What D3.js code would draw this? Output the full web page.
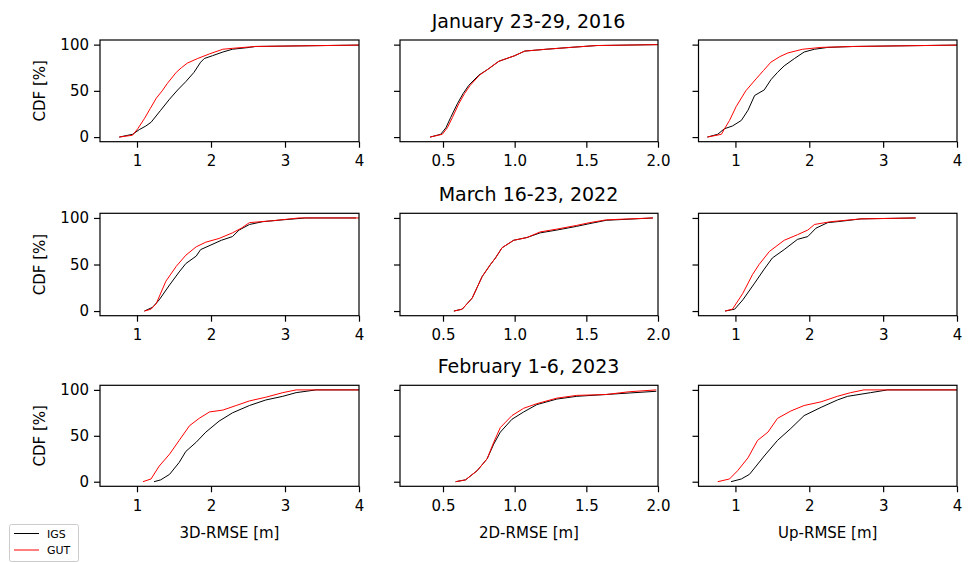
<!DOCTYPE html>
<html><head><meta charset="utf-8">
<script src="https://cdn.jsdelivr.net/npm/d3@7"></script>
<style>body{margin:0;background:#fff} text{font-family:"DejaVu Sans",sans-serif}</style>
</head><body><svg id="c" width="968" height="563"></svg>
<script>
// ---------- data ----------
const rowTitles = ["January 23-29, 2016", "March 16-23, 2022", "February 1-6, 2023"];
const xLabels = ["3D-RMSE [m]", "2D-RMSE [m]", "Up-RMSE [m]"];
const xDomains = [[0.5, 4], [0.2, 2.0], [0.5, 4]];
const xTicks = [[1, 2, 3, 4], [0.5, 1.0, 1.5, 2.0], [1, 2, 3, 4]];
const yTicks = [0, 50, 100];
const yLabel = "CDF [%]";
const seriesNames = ["IGS", "GUT"];

// [RMSE (m), CDF (%)]
const igsJan3D = [[0.76,0],[0.94,3],[1.03,8],[1.12,12],[1.19,16],[1.32,29],[1.44,41],[1.55,51],[1.66,60],[1.77,70],[1.86,81],[1.91,85],[2.02,88],[2.16,92],[2.29,95],[2.52,97],[2.6,98],[4.0,99.5]];
const gutJan3D = [[0.76,0],[0.94,2],[1.01,9],[1.10,20],[1.18,31],[1.26,42],[1.34,50],[1.41,58],[1.53,70],[1.60,75],[1.68,80],[1.82,85],[1.98,90],[2.16,95],[2.29,96],[2.6,98],[4.0,99.5]];
const igsJan2D = [[0.41,0],[0.484,3],[0.52,10],[0.553,21],[0.60,36],[0.64,47],[0.68,56],[0.75,67],[0.81,73],[0.89,82],[1.0,88],[1.07,93],[1.22,95],[1.39,97],[1.57,99],[2.0,100]];
const gutJan2D = [[0.41,0],[0.495,3],[0.53,10],[0.565,21],[0.61,36],[0.65,47],[0.69,56],[0.755,67],[0.81,73],[0.89,82],[1.0,88],[1.07,93],[1.22,95],[1.39,97],[1.57,99],[2.0,100]];
const igsJanUp = [[0.62,0],[0.76,3],[0.85,9],[0.96,12],[1.08,18],[1.17,29],[1.26,45],[1.39,51],[1.48,62],[1.57,70],[1.66,77],[1.80,85],[1.93,92],[2.07,95],[2.25,97],[2.6,98],[4.0,99.5]];
const gutJanUp = [[0.62,0],[0.81,3],[0.86,10],[0.92,18],[1.01,33],[1.14,50],[1.28,63],[1.38,72],[1.48,81],[1.60,87],[1.71,91],[1.91,95],[2.16,97],[2.6,98],[4.0,99.5]];

const igsMar3D = [[1.10,0],[1.21,4],[1.30,12],[1.44,28],[1.57,42],[1.66,51],[1.80,59],[1.86,66],[2.0,71],[2.14,76],[2.29,80],[2.38,87],[2.52,93],[2.70,96],[2.97,98],[3.28,100],[3.96,100]];
const gutMar3D = [[1.10,0],[1.19,2],[1.26,8],[1.39,32],[1.53,48],[1.66,60],[1.80,69],[1.93,74],[2.11,78],[2.29,84],[2.41,89],[2.52,95],[2.83,97],[3.19,100],[4.0,100]];
const igsMar2D = [[0.576,0],[0.634,2],[0.704,14],[0.773,37],[0.831,50],[0.866,57],[0.912,68],[0.993,76],[1.086,79],[1.178,84],[1.294,87],[1.433,91],[1.525,94],[1.64,97.5],[1.965,100]];
const gutMar2D = [[0.576,0],[0.634,2],[0.704,14],[0.773,37],[0.831,50],[0.866,57],[0.912,68],[0.993,76],[1.086,79],[1.178,85],[1.294,88],[1.433,92],[1.525,95],[1.64,98],[1.965,100]];
const igsMarUp = [[0.86,0],[0.99,2],[1.10,12],[1.26,30],[1.39,45],[1.50,57],[1.66,66],[1.84,77],[1.98,80],[2.09,89],[2.25,95],[2.38,96],[2.7,99],[3.44,100]];
const gutMarUp = [[0.86,0],[0.96,2],[1.10,19],[1.23,39],[1.32,50],[1.46,64],[1.66,76],[1.84,82],[1.98,87],[2.07,93],[2.29,96],[2.7,99],[3.44,100]];

const igsFeb3D = [[1.23,0],[1.32,2],[1.44,8],[1.57,21],[1.66,33],[1.80,43],[1.93,54],[2.11,66],[2.29,75],[2.52,83],[2.74,89],[2.97,93],[3.15,97],[3.42,100],[4.0,100]];
const gutFeb3D = [[1.08,0],[1.19,3],[1.30,17],[1.44,30],[1.57,45],[1.71,61],[1.84,69],[1.98,76],[2.16,78],[2.34,83],[2.52,88],[2.74,92],[2.97,97],[3.15,100],[4.0,100]];
const igsFeb2D = [[0.588,0],[0.657,2],[0.738,12],[0.808,25],[0.854,41],[0.90,54],[0.981,68],[1.063,76],[1.155,84],[1.294,90],[1.433,93],[1.64,95],[1.988,98.5]];
const gutFeb2D = [[0.588,0],[0.657,2],[0.738,12],[0.808,25],[0.854,43],[0.90,59],[0.981,72],[1.063,80],[1.155,85],[1.294,91],[1.433,94],[1.64,95],[1.80,98],[1.988,100]];
const igsFebUp = [[0.94,0],[1.08,3],[1.19,8],[1.39,28],[1.57,45],[1.75,58],[1.93,72],[2.16,81],[2.38,89],[2.52,93],[2.83,97],[3.06,100],[4.0,100]];
const gutFebUp = [[0.76,0],[0.92,3],[1.03,12],[1.17,26],[1.30,45],[1.44,54],[1.57,69],[1.75,77],[1.93,83],[2.16,87],[2.38,93],[2.56,97],[2.74,100],[4.0,100]];

const panels = [
  [[igsJan3D, gutJan3D], [igsJan2D, gutJan2D], [igsJanUp, gutJanUp]],
  [[igsMar3D, gutMar3D], [igsMar2D, gutMar2D], [igsMarUp, gutMarUp]],
  [[igsFeb3D, gutFeb3D], [igsFeb2D, gutFeb2D], [igsFebUp, gutFebUp]]
];

// ---------- layout ----------
const colX = [[100, 359], [400, 658], [698.5, 957]];
const rowY = [[40, 141.7], [213.3, 315.7], [385.3, 486.3]];
const colors = ["#000000", "#ff0000"];
const svg = d3.select("#c");
const fontSize = 15;

rowTitles.forEach((t, r) => {
  svg.append("text").attr("x", (colX[0][0] + colX[2][1]) / 2).attr("y", rowY[r][0] - 12)
    .attr("text-anchor", "middle").attr("font-size", 19).text(t);
});

panels.forEach((row, r) => {
  row.forEach((pair, c) => {
    const [x0, x1] = colX[c], [y0, y1] = rowY[r];
    const x = d3.scaleLinear().domain(xDomains[c]).range([x0, x1]);
    const y = d3.scaleLinear().domain([-5, 105]).range([y1, y0]);
    const id = "clip" + r + c;
    svg.append("clipPath").attr("id", id).append("rect")
      .attr("x", x0).attr("y", y0).attr("width", x1 - x0).attr("height", y1 - y0);

    const line = d3.line().x(d => x(d[0])).y(d => y(d[1]));
    const g = svg.append("g").attr("clip-path", `url(#${id})`);
    pair.forEach((s, i) => {
      g.append("path").datum(s).attr("d", line).attr("fill", "none")
        .attr("stroke", colors[i]).attr("stroke-width", 1).attr("stroke-linejoin", "round");
    });

    const fmt = c === 1 ? d3.format(".1f") : d3.format("d");
    const ax = svg.append("g").attr("transform", `translate(0,${y1})`)
      .call(d3.axisBottom(x).tickValues(xTicks[c]).tickFormat(fmt).tickSize(6).tickPadding(8).tickSizeOuter(0));
    ax.select(".domain").remove();
    ax.selectAll("line").attr("stroke-width", 1.2);
    ax.selectAll("text").attr("font-size", fontSize).attr("font-family", "DejaVu Sans").attr("fill", "#000");

    const ay = svg.append("g").attr("transform", `translate(${x0},0)`)
      .call(d3.axisLeft(y).tickValues(yTicks).tickFormat(c === 0 ? d3.format("d") : () => "").tickSize(6).tickPadding(5).tickSizeOuter(0));
    ay.select(".domain").remove();
    ay.selectAll("line").attr("stroke-width", 1.2);
    ay.selectAll("text").attr("font-size", fontSize).attr("font-family", "DejaVu Sans").attr("fill", "#000");

    svg.append("rect").attr("x", x0).attr("y", y0).attr("width", x1 - x0).attr("height", y1 - y0)
      .attr("fill", "none").attr("stroke", "#000").attr("stroke-width", 1.2);

    if (c === 0) {
      svg.append("text").attr("transform", `translate(45,${(y0 + y1) / 2}) rotate(-90)`)
        .attr("text-anchor", "middle").attr("font-size", fontSize).text(yLabel);
    }
    if (r === 2) {
      svg.append("text").attr("x", (x0 + x1) / 2).attr("y", y1 + 52)
        .attr("text-anchor", "middle").attr("font-size", fontSize).text(xLabels[c]);
    }
  });
});

// legend
const lg = svg.append("g");
lg.append("rect").attr("x", 9.5).attr("y", 524.5).attr("width", 69).attr("height", 37).attr("rx", 2)
  .attr("fill", "#fff").attr("stroke", "#cccccc").attr("stroke-width", 1);
seriesNames.forEach((n, i) => {
  const yy = 533.5 + i * 16.5;
  lg.append("line").attr("x1", 14).attr("x2", 39).attr("y1", yy).attr("y2", yy)
    .attr("stroke", colors[i]).attr("stroke-width", 1);
  lg.append("text").attr("x", 47).attr("y", yy + 4).attr("font-size", 11).text(n);
});
</script></body></html>
